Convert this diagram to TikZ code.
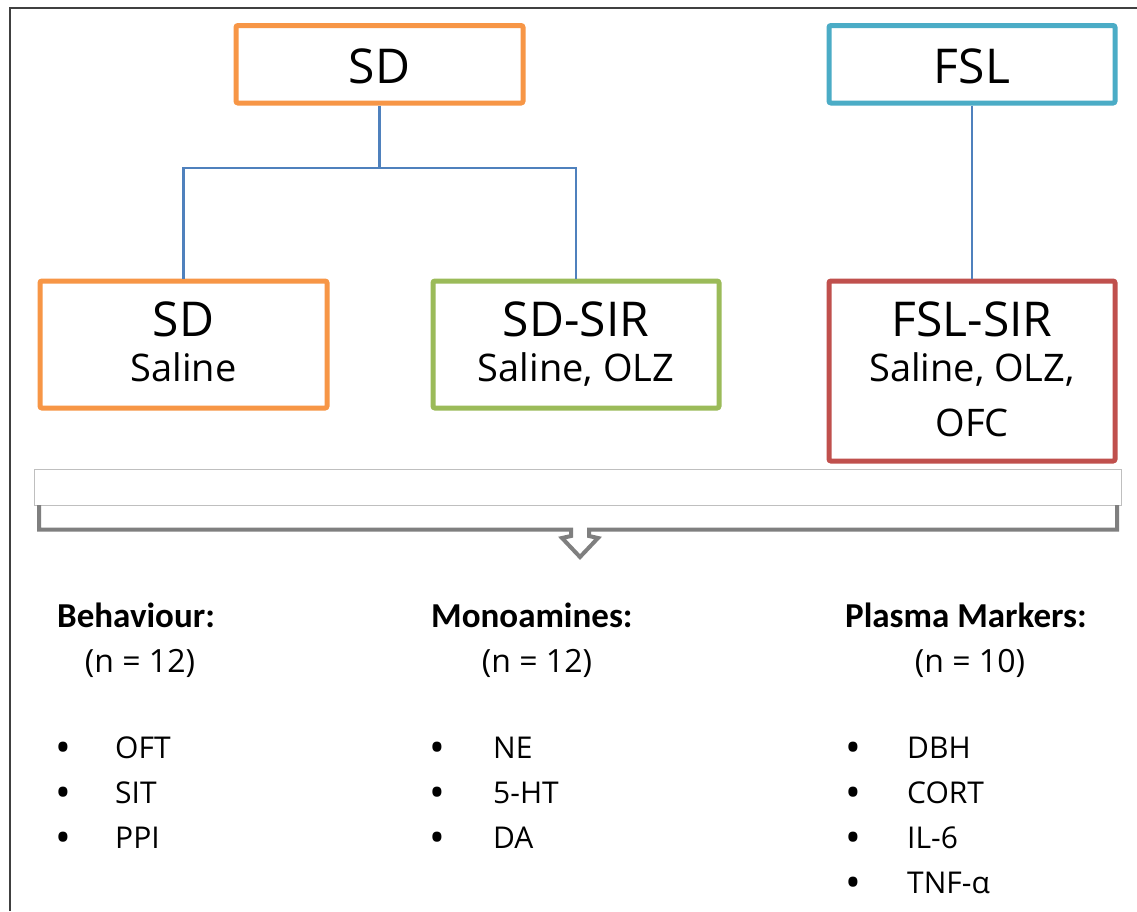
\documentclass[tikz,border=0pt]{standalone}
\usepackage{fontspec}
\setmainfont{Open Sans}
\newfontfamily\hdrfont{Carlito}
\definecolor{sdorange}{HTML}{F79646}
\definecolor{fslteal}{HTML}{4BACC6}
\definecolor{sirgreen}{HTML}{9BBB59}
\definecolor{fslred}{HTML}{C0504D}
\definecolor{connblue}{HTML}{4F81BD}
\definecolor{brackgray}{HTML}{7F7F7F}
\definecolor{bandgray}{HTML}{BFBFBF}
\definecolor{framec}{HTML}{404040}
\begin{document}
\begin{tikzpicture}[x=1pt,y=-1pt,
  box/.style={draw, line width=5pt, rounded corners=2pt, inner sep=0pt, minimum width=287pt, fill=white},
  conn/.style={draw=connblue, line width=2.2pt},
  big/.style={font=\fontsize{48}{56}\selectfont, anchor=base, inner sep=0pt},
  sub/.style={font=\fontsize{38}{46}\selectfont, anchor=base, inner sep=0pt},
  hdr/.style={font=\hdrfont\bfseries\fontsize{35}{42}\selectfont, anchor=base west, inner sep=0pt},
  cnt/.style={font=\fontsize{32}{38}\selectfont, anchor=base, inner sep=0pt},
  item/.style={font=\fontsize{30}{36}\selectfont, anchor=base west, inner sep=0pt},
  bul/.style={font=\fontsize{42}{48}\selectfont, anchor=base, inner sep=0pt}
]
\useasboundingbox (0,0) rectangle (1137,911);
\fill[white] (0,0) rectangle (1137,911);
% frame
\draw[framec, line width=1.5pt] (10,911) -- (10,8) -- (1137,8);

% boxes
\node[box, draw=sdorange, minimum height=77.5pt] (sdtop) at (379.5,64.25) {};
\node[box, draw=fslteal, minimum height=77.5pt, minimum width=286pt] (fsltop) at (972,64.25) {};
\node[box, draw=sdorange, minimum height=127pt] (sd) at (183.5,344.5) {};
\node[box, draw=sirgreen, minimum height=127pt, minimum width=286pt] (sdsir) at (576,344.5) {};
\node[box, draw=fslred, minimum height=180pt, minimum width=286pt] (fslsir) at (972,371) {};

% texts in boxes
\node[big] (t1) at (379.5,83) {SD};
\node[big] (t2) at (972,83) {FSL};
\node[big] (t3) at (183.5,336) {SD};
\node[sub] (t3b) at (183.5,381) {Saline};
\node[big] (t4) at (576,336) {SD-SIR};
\node[sub] (t4b) at (576,381) {Saline, OLZ};
\node[big] (t5) at (972,336) {FSL-SIR};
\node[sub] (t5b) at (972,381) {Saline, OLZ,};
\node[sub] (t5c) at (972,436) {OFC};

% connectors
\coordinate (bar) at (379.5,168);
\draw[conn] (sdtop.south) -- (bar);
\draw[conn] (sd.north) |- (bar) -| (sdsir.north);
\draw[conn] (fsltop.south) -- (fslsir.north);

% band and bracket
\node[draw=bandgray, line width=1pt, fill=white, minimum width=1087pt, minimum height=36pt, inner sep=0pt] (band) at (577.5,487) {};
\coordinate (bl) at (39,505);
\coordinate (br) at (1117,505);
\draw[brackgray, line width=4pt, line join=miter]
  (bl) -- (39,529.5) -- (571,529.5) -- (571,536) -- (562,538) -- (580,557)
  -- (598,538) -- (589,536) -- (589,529.5) -- (1117,529.5) -- (br);

% headers
\node[hdr] (h1) at (57,627) {Behaviour:};
\node[hdr] (h2) at (431,627) {Monoamines:};
\node[hdr] (h3) at (845,627) {Plasma Markers:};
\node[cnt] (n1) at (140,672) {(n = 12)};
\node[cnt] (n2) at (537,672) {(n = 12)};
\node[cnt] (n3) at (970,672) {(n = 10)};

% lists
\foreach \y/\lab [count=\i] in {758/OFT, 803/SIT, 848/PPI}{
  \node[bul] (ba\i) at (63,\y+4) {•};
  \node[item] (ia\i) at (115,\y) {\lab};
}
\foreach \y/\lab [count=\i] in {758/NE, 803/5-HT, 848/DA}{
  \node[bul] (bb\i) at (437,\y+4) {•};
  \node[item] (ib\i) at (493,\y) {\lab};
}
\foreach \y/\lab [count=\i] in {758/DBH, 803/CORT, 848/IL-6, 893/TNF-α}{
  \node[bul] (bc\i) at (853,\y+4) {•};
  \node[item] (ic\i) at (907,\y) {\lab};
}
\end{tikzpicture}
\end{document}
